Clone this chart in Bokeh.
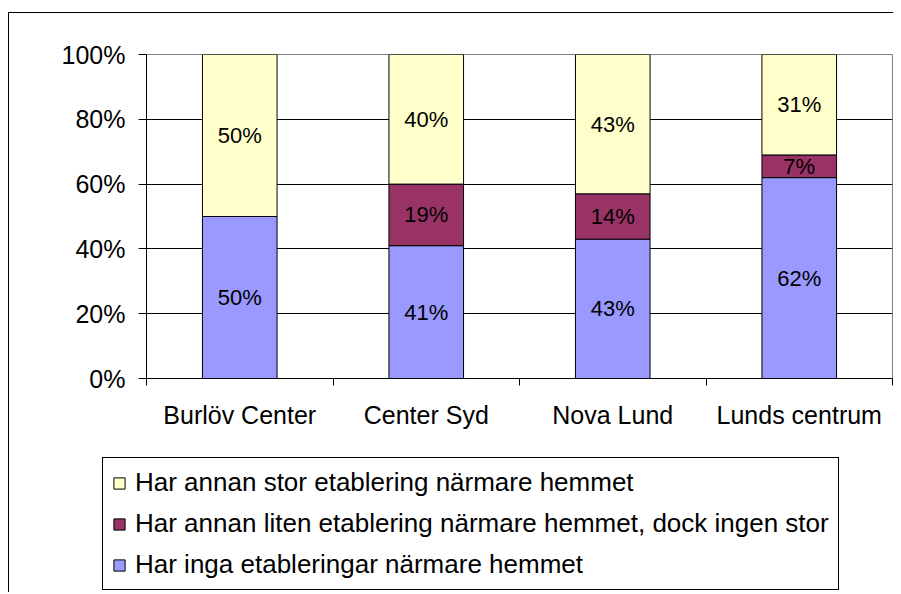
from bokeh.plotting import figure
from bokeh.models import (Range1d, FixedTicker, NumeralTickFormatter, Legend, LegendItem,
                          ColumnDataSource)
from bokeh.core.properties import value
from bokeh.embed import file_html
from bokeh.resources import INLINE

categories = ["Burlöv Center", "Center Syd", "Nova Lund", "Lunds centrum"]
inga = [50, 41, 43, 62]
liten = [0, 19, 14, 7]
stor = [50, 40, 43, 31]
series_names = ["Har inga etableringar närmare hemmet",
                "Har annan liten etablering närmare hemmet, dock ingen stor",
                "Har annan stor etablering närmare hemmet"]
colors = ["#9999FF", "#993366", "#FFFFCC"]
y_ticks = [0, 0.2, 0.4, 0.6, 0.8, 1.0]

FONT = "Liberation Sans"
xs = list(range(len(categories)))


def make_source():
    return ColumnDataSource(dict(x=xs,
                                 inga=[v / 100 for v in inga],
                                 liten=[v / 100 for v in liten],
                                 stor=[v / 100 for v in stor]))


p = figure(width=893, height=440, output_backend="svg", toolbar_location=None,
           x_range=Range1d(-0.5, len(categories) - 0.5), y_range=Range1d(0, 1),
           min_border_left=146, min_border_right=1, min_border_top=54, min_border_bottom=62)
p.background_fill_color = "white"
p.border_fill_alpha = 0
p.outline_line_color = "#808080"
p.outline_line_width = 1
p.styles = {
    "background": "linear-gradient(#000, #000) 8px 12px / 1px 100% no-repeat, "
                  "linear-gradient(#000, #000) 8px 12px / 100% 1px no-repeat, #fff",
}

renderers = p.vbar_stack(["inga", "liten", "stor"], x="x", width=0.4, source=make_source(),
                         fill_color=colors, line_color="black", line_width=1)

# labels
lx, ly, lt = [], [], []
for i in xs:
    base = 0
    for vals in (inga, liten, stor):
        v = vals[i]
        if v > 0:
            lx.append(i)
            ly.append((base + v / 2) / 100)
            lt.append(f"{v}%")
        base += v
lsrc = ColumnDataSource(dict(x=lx, y=ly, t=lt))
p.text(x="x", y="y", text="t", source=lsrc, text_align="center", text_baseline="middle",
       text_font=value(FONT), text_font_size="22px", text_color="black")

# y axis
p.yaxis.ticker = FixedTicker(ticks=y_ticks)
p.yaxis.formatter = NumeralTickFormatter(format="0%")
p.yaxis.major_label_text_font = FONT
p.yaxis.major_label_text_font_size = "25px"
p.yaxis.major_label_text_color = "black"
p.yaxis.major_tick_out = 8
p.yaxis.major_tick_in = 0
p.yaxis.minor_tick_line_color = None
p.yaxis.axis_line_color = "black"
p.yaxis.major_tick_line_color = "black"
p.yaxis.major_label_standoff = 13

# x axis
p.xaxis.ticker = FixedTicker(ticks=xs, minor_ticks=[i - 0.5 for i in range(len(categories) + 1)])
p.xaxis.major_label_overrides = {i: c for i, c in zip(xs, categories)}
p.xaxis.major_tick_line_color = None
p.xaxis.major_tick_out = 0
p.xaxis.major_tick_in = 0
p.xaxis.minor_tick_out = 7
p.xaxis.minor_tick_in = 0
p.xaxis.minor_tick_line_color = "black"
p.xaxis.axis_line_color = "black"
p.xaxis.major_label_text_font = FONT
p.xaxis.major_label_text_font_size = "25px"
p.xaxis.major_label_text_color = "black"
p.xaxis.major_label_standoff = 15

p.xgrid.grid_line_color = None
p.ygrid.ticker = FixedTicker(ticks=y_ticks[1:-1])
p.ygrid.grid_line_color = "black"
p.ygrid.grid_line_width = 1

# legend panel (separate figure below the chart; its bars lie outside its y range)
pl = figure(width=893, height=152, output_backend="svg", toolbar_location=None,
            x_axis_type=None, y_axis_type=None,
            x_range=Range1d(-0.5, len(categories) - 0.5), y_range=Range1d(2, 3),
            min_border=0)
pl.background_fill_alpha = 0
pl.border_fill_alpha = 0
pl.outline_line_color = None
pl.xgrid.grid_line_color = None
pl.ygrid.grid_line_color = None
pl.styles = {
    "background": "linear-gradient(#000, #000) 8px 0px / 1px 100% no-repeat, #fff",
}
swatches = pl.vbar_stack(["inga", "liten", "stor"], x="x", width=0.4, source=make_source(),
                         fill_color=colors, line_color="black", line_width=1)
items = [LegendItem(label=series_names[k], renderers=[swatches[k]]) for k in (2, 1, 0)]
legend = Legend(items=items, location=(102, 2), orientation="vertical",
                label_text_font=FONT, label_text_font_size="26px", label_text_color="black",
                glyph_width=14, glyph_height=14, label_height=24, label_standoff=9,
                spacing=10, padding=9, margin=0,
                border_line_color="black", border_line_width=1, border_line_alpha=1,
                background_fill_color="white", background_fill_alpha=1)
pl.add_layout(legend)

open("out.html", "w").write(file_html([p, pl], INLINE))
